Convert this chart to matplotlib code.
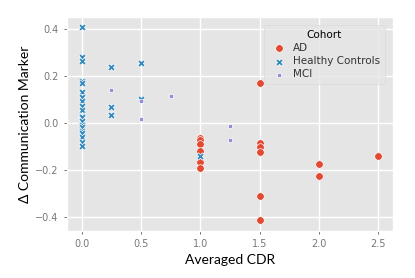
import matplotlib
matplotlib.use("Agg")
import matplotlib.pyplot as plt

plt.style.use("ggplot")

# AD cohort
ad_x = [1.0, 1.0, 1.0, 1.0, 1.0, 1.0, 1.5, 1.5, 1.5, 1.5, 1.5, 1.5, 2.0, 2.0, 2.5]
ad_y = [-0.065, -0.075, -0.089, -0.122, -0.165, -0.193,
        0.169, -0.086, -0.104, -0.126, -0.314, -0.413,
        -0.174, -0.226, -0.14]

# Healthy controls
hc_x = [0.0] * 20 + [0.25, 0.25, 0.25, 0.5, 0.5, 1.0]
hc_y = [0.41, 0.282, 0.265, 0.18, 0.169, 0.133, 0.112, 0.091, 0.072, 0.055,
        0.03, 0.024, 0.006, -0.009, -0.016, -0.034, -0.044, -0.061, -0.08, -0.1,
        0.24, 0.069, 0.034, 0.254, 0.103, -0.143]

# MCI
mci_x = [0.25, 0.5, 0.5, 0.75, 1.25, 1.25]
mci_y = [0.14, 0.091, 0.016, 0.115, -0.013, -0.072]

fig = plt.figure(figsize=(4.15, 2.78), dpi=100)
ax = fig.add_axes([0.161, 0.169, 0.786, 0.770])
ax.set_facecolor("#E5E5E5")

ax.scatter(ad_x, ad_y, marker="o", s=30, color="#E24A33", edgecolor="white",
           linewidth=0.5, label="AD", zorder=3)
ax.scatter(hc_x, hc_y, marker="X", s=28, color="#348ABD", edgecolor="white",
           linewidth=0.5, label="Healthy Controls", zorder=3)
ax.scatter(mci_x, mci_y, marker="s", s=12, color="#988ED5", edgecolor="white",
           linewidth=0.5, label="MCI", zorder=3)

ax.set_xlim(-0.125, 2.625)
ax.set_ylim(-0.4615, 0.4515)
ax.set_xticks([0.0, 0.5, 1.0, 1.5, 2.0, 2.5])
ax.set_yticks([-0.4, -0.2, 0.0, 0.2, 0.4])
ax.set_xticklabels(["0.0", "0.5", "1.0", "1.5", "2.0", "2.5"])
ax.set_yticklabels(["\u22120.4", "\u22120.2", "0.0", "0.2", "0.4"])
ax.tick_params(labelsize=7, colors="#555555", labelcolor="#777777", length=2.5, width=0.6)
ax.grid(True, color="white", linewidth=1.0)
ax.set_axisbelow(True)

ax.set_xlabel("Averaged CDR", fontsize=10, color="black", family="Lato", labelpad=3)
ax.set_ylabel("\u0394 Communication Marker", fontsize=10, color="black", family="Lato", labelpad=3)

leg = ax.legend(title="Cohort", loc="upper right", fontsize=7.5, title_fontsize=7.5,
                frameon=True, borderpad=0.45, labelspacing=0.3, handletextpad=0.3,
                bbox_to_anchor=(0.99, 0.985))
leg.get_frame().set_facecolor("#E5E5E5")
leg.get_frame().set_edgecolor("#D8D8D8")
for t in leg.get_texts():
    t.set_color("#333333")

fig.savefig("out.png", dpi=100)
